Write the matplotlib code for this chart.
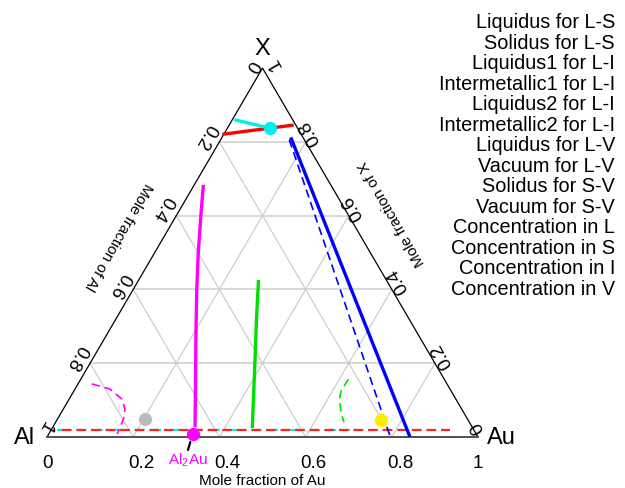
import numpy as np
import matplotlib
matplotlib.use('Agg')
import matplotlib.pyplot as plt

plt.rcParams['font.family'] = ['Liberation Sans', 'DejaVu Sans']
plt.rcParams['mathtext.fontset'] = 'custom'
plt.rcParams['mathtext.rm'] = 'Liberation Sans'
plt.rcParams['mathtext.it'] = 'Liberation Sans'
plt.rcParams['lines.scale_dashes'] = False

# ---------------- data (ternary fractions: Au, X; Al = 1 - Au - X) ----------------
liq_LS_au = [0.000, 0.146]
liq_LS_x = [0.821, 0.845]
sol_LS_au = [0.0125, 0.925]
sol_LS_x = [0.020, 0.020]
liq1_LI_au = [0.023, 0.057, 0.101, 0.147, 0.208, 0.275, 0.328]
liq1_LI_x = [0.679, 0.600, 0.500, 0.401, 0.275, 0.139, 0.031]
int1_LI_au = [0.032, 0.081, 0.122, 0.143, 0.153, 0.159]
int1_LI_x = [0.144, 0.130, 0.103, 0.076, 0.049, 0.008]
liq2_LI_au = [0.280, 0.326, 0.373, 0.462]
liq2_LI_x = [0.421, 0.320, 0.220, 0.029]
int2_LI_au = [0.621, 0.620, 0.627, 0.648, 0.669]
int2_LI_x = [0.157, 0.125, 0.103, 0.068, 0.040]
liq_LV_au = [0.163, 0.838]
liq_LV_x = [0.808, 0.005]
vac_LV_au = [0.159, 0.795]
vac_LV_x = [0.806, 0.002]
sol_SV_au = [0.009, 0.099]
sol_SV_x = [0.859, 0.837]
vac_SV_au = [0.0125, 0.693]
vac_SV_x = [0.020, 0.020]

conc_names = ['L', 'S', 'I', 'V']
conc_au = [0.099, 0.203, 0.334, 0.7515]
conc_x = [0.837, 0.049, 0.008, 0.047]
conc_colors = ['#00eeee', '#bbbbbb', '#ff00ff', '#ffee00']

legend_labels = ['Liquidus for L-S', 'Solidus for L-S', 'Liquidus1 for L-I',
                 'Intermetallic1 for L-I', 'Liquidus2 for L-I', 'Intermetallic2 for L-I',
                 'Liquidus for L-V', 'Vacuum for L-V', 'Solidus for S-V', 'Vacuum for S-V',
                 'Concentration in L', 'Concentration in S', 'Concentration in I',
                 'Concentration in V']
tick_vals = [0, 0.2, 0.4, 0.6, 0.8, 1]
tick_labels = ['0', '0.2', '0.4', '0.6', '0.8', '1']

# label offsets in pixels (dx right, dy down) from the edge point
left_off = [(-10.5, -3.5), (-14, -6), (-13.5, -8), (-13.5, -5), (-13.5, -7), (-2, -11)]
right_off = [(0, -10), (7, -8), (6, -9.5), (4.5, -8.5), (4.5, -9.5), (12.5, -5.5)]

# ---------------- helpers ----------------
S3 = np.sqrt(3) / 2


def tc(au, x):
    au = np.asarray(au, float)
    x = np.asarray(x, float)
    return au + x / 2, x * S3


W, H = 625, 489
fig = plt.figure(figsize=(W / 100, H / 100), dpi=100)
ax = fig.add_axes([0, 0, 1, 1])
sx, sy = 431.0, 426.0
ox, oy = 47.0, 51.0
ax.set_xlim(-ox / sx, (W - ox) / sx)
ax.set_ylim(-oy / sy, (H - oy) / sy)
ax.axis('off')

P = 0.72  # px -> pt

# grid
for v in [0.2, 0.4, 0.6, 0.8]:
    ax.plot(*tc([0, 1 - v], [v, v]), color='#d2d2d2', lw=1.2, zorder=1)
    ax.plot(*tc([v, v], [0, 1 - v]), color='#c8c8c8', lw=0.8, zorder=1)
    ax.plot(*tc([1 - v, 0], [0, 1 - v]), color='#c8c8c8', lw=0.8, zorder=1)

# triangle
ax.plot(*tc([0, 1, 0, 0], [0, 0, 1, 0]), color='black', lw=0.9, zorder=2)
ax.plot(*tc([0, 1], [0, 0]), color='#555555', lw=1.4, zorder=2)


def dash(on, off):
    return (0, (on, off))


ax.plot(*tc(vac_SV_au, vac_SV_x), color='#00eeee', lw=1.6, ls=dash(5, 9), zorder=3)
ax.plot(*tc(sol_LS_au, sol_LS_x), color='#ff2222', lw=1.6, ls=(7, (7, 3.5)), zorder=3)
ax.plot(*tc(liq_LS_au, liq_LS_x), color='#ff0000', lw=2.4, zorder=4)
ax.plot(*tc(sol_SV_au, sol_SV_x), color='#00eeee', lw=2.4, zorder=4)
ax.plot(*tc(liq1_LI_au, liq1_LI_x), color='#ff00ff', lw=2.4, zorder=4)
ax.plot(*tc(int1_LI_au, int1_LI_x), color='#ff00ff', lw=1.2, ls=dash(6, 3.5), zorder=4)
ax.plot(*tc(liq2_LI_au, liq2_LI_x), color='#00e000', lw=2.4, zorder=4)
ax.plot(*tc(int2_LI_au, int2_LI_x), color='#00e000', lw=1.2, ls=dash(6, 3.5), zorder=4)
ax.plot(*tc(liq_LV_au, liq_LV_x), color='#0000ff', lw=2.4, zorder=4)
ax.plot(*tc(vac_LV_au, vac_LV_x), color='#0000ff', lw=1.2, ls=dash(6, 3.5), zorder=4)

for au, x, c in zip(conc_au, conc_x, conc_colors):
    ax.plot(*tc([au], [x]), 'o', color=c, ms=9.5, mec='none', zorder=5)

# Al2Au label
i_dot = tc([conc_au[2]], [conc_x[2]])
dot = (i_dot[0][0], i_dot[1][0])
ax.annotate('', xy=dot, xytext=(-4.7 * P, -16 * P), textcoords='offset points',
            arrowprops=dict(arrowstyle='-', color='black', lw=1.6, shrinkA=0, shrinkB=8.3 * P),
            zorder=5)
ax.annotate('Al$_2$Au', xy=dot, xytext=(-4.7 * P, -30 * P), textcoords='offset points',
            ha='center', va='baseline', color='#ff00ff', fontsize=11)

# tick labels
fs_t = 13.5
for k, (v, lab) in enumerate(zip(tick_vals, tick_labels)):
    ax.annotate(lab, xy=tc(v, 0), xytext=(-5 * P, -30 * P), textcoords='offset points',
                ha='left', va='baseline', fontsize=fs_t)
    dx, dy = left_off[k]
    ax.annotate(lab, xy=tc(0, 1 - v), xytext=(dx * P, -dy * P), textcoords='offset points',
                ha='center', va='center', rotation=240, rotation_mode='anchor', fontsize=fs_t)
    dx, dy = right_off[k]
    ax.annotate(lab, xy=tc(1 - v, v), xytext=(dx * P, -dy * P), textcoords='offset points',
                ha='center', va='center', rotation=120, rotation_mode='anchor', fontsize=fs_t)

# axis titles
ax.annotate('Mole fraction of Au', xy=tc(0.5, 0), xytext=(0, -43 * P), textcoords='offset points',
            ha='center', va='center', fontsize=11)
ax.annotate('Mole fraction of Al', xy=tc(0, 0.5), xytext=(-37 * P, 17.5 * P), textcoords='offset points',
            ha='center', va='center', rotation=240, rotation_mode='anchor', fontsize=11)
ax.annotate('Mole fraction of X', xy=tc(0.5, 0.5), xytext=(22 * P, 40 * P), textcoords='offset points',
            ha='center', va='center', rotation=120, rotation_mode='anchor', fontsize=11)

# corner labels
ax.annotate('Al', xy=tc(0, 0), xytext=(-22 * P, 0), textcoords='offset points',
            ha='center', va='center', fontsize=17)
ax.annotate('Au', xy=tc(1, 0), xytext=(23 * P, 0), textcoords='offset points',
            ha='center', va='center', fontsize=17)
ax.annotate('X', xy=tc(0, 1), xytext=(0, 20 * P), textcoords='offset points',
            ha='center', va='center', fontsize=17)

# legend-like text list
for i, lab in enumerate(legend_labels):
    fig.text(615 / W, 1 - (28.3 + 20.5 * i) / H, lab, ha='right', va='baseline', fontsize=14.3)

fig.savefig('out.png', dpi=100)
